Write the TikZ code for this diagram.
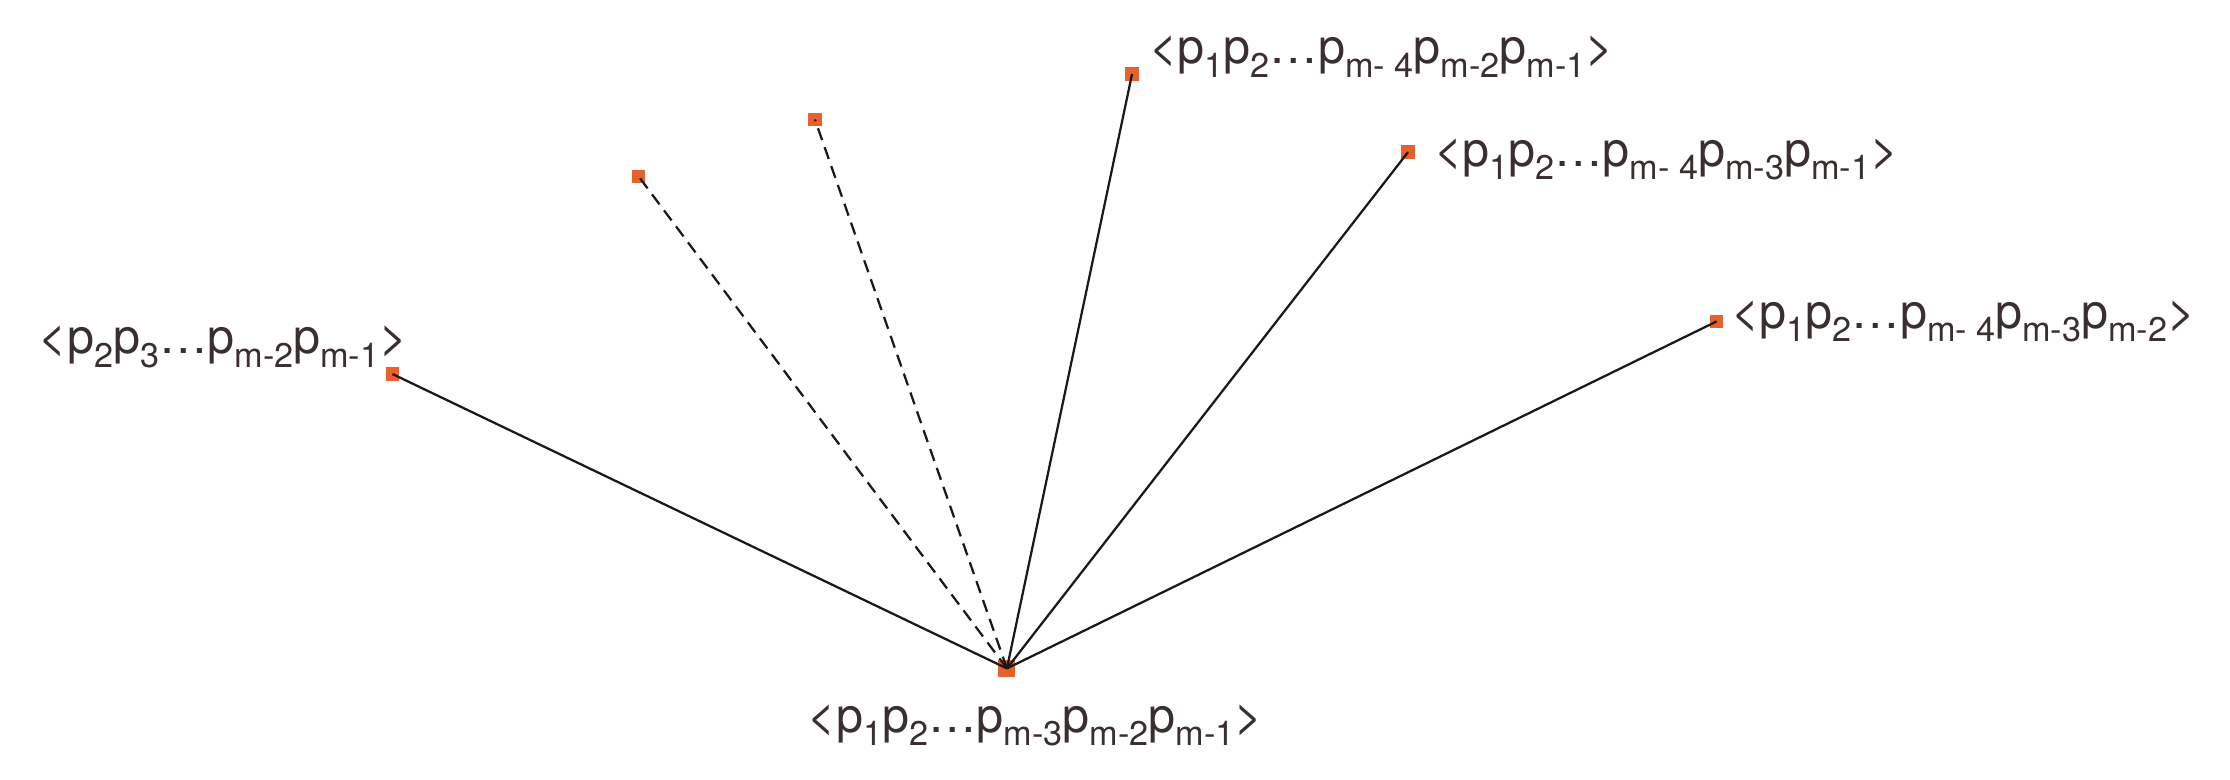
\documentclass[tikz,border=0pt]{standalone}
\usepackage{fontspec}
\setmainfont{TeX Gyre Heros}
\newcommand{\sbs}[1]{\raisebox{-0.28em}{\fontsize{13.7}{15}\selectfont #1}}
\definecolor{sq}{HTML}{E8612C}
\definecolor{tx}{HTML}{3A2E2E}
\begin{document}
\begin{tikzpicture}[x=0.02cm,y=-0.02cm,
  pt/.style={fill=sq,minimum size=5.4pt,inner sep=0pt},
  lbl/.style={text=tx,font=\fontsize{19.4}{23}\selectfont,inner sep=0pt},
  ln/.style={line width=0.9pt,black!90}]
\useasboundingbox (0,0) rectangle (1568,548);
\node[pt,minimum size=6.8pt] (c) at (708,470) {};
\node[pt] (a) at (276,263) {};
\node[pt] (b) at (449,124) {};
\node[pt] (d) at (573,84) {};
\node[pt] (e) at (796,52) {};
\node[pt] (f) at (990,107) {};
\node[pt] (g) at (1207,226) {};
\draw[ln] (c.center) -- (a.center);
\draw[ln,dash pattern=on 5pt off 3pt] (c.center) -- (b.center);
\draw[ln,dash pattern=on 5pt off 3pt] (c.center) -- (d.center);
\draw[ln] (c.center) -- (e.center);
\draw[ln] (c.center) -- (f.center);
\draw[ln] (c.center) -- (g.center);
\node[lbl] (lc) at (728,510) {<p\sbs{1}p\sbs{2}\ldots p\sbs{m-3}p\sbs{m-2}p\sbs{m-1}>};
\node[lbl,anchor=east] (la) at (287,244) {<p\sbs{2}p\sbs{3}\ldots p\sbs{m-2}p\sbs{m-1}>};
\node[lbl,anchor=west] (le) at (808,40) {<p\sbs{1}p\sbs{2}\ldots p\sbs{m- 4}p\sbs{m-2}p\sbs{m-1}>};
\node[lbl,anchor=west] (lf) at (1008,112) {<p\sbs{1}p\sbs{2}\ldots p\sbs{m- 4}p\sbs{m-3}p\sbs{m-1}>};
\node[lbl,anchor=west] (lg) at (1217,226) {<p\sbs{1}p\sbs{2}\ldots p\sbs{m- 4}p\sbs{m-3}p\sbs{m-2}>};
\end{tikzpicture}
\end{document}
